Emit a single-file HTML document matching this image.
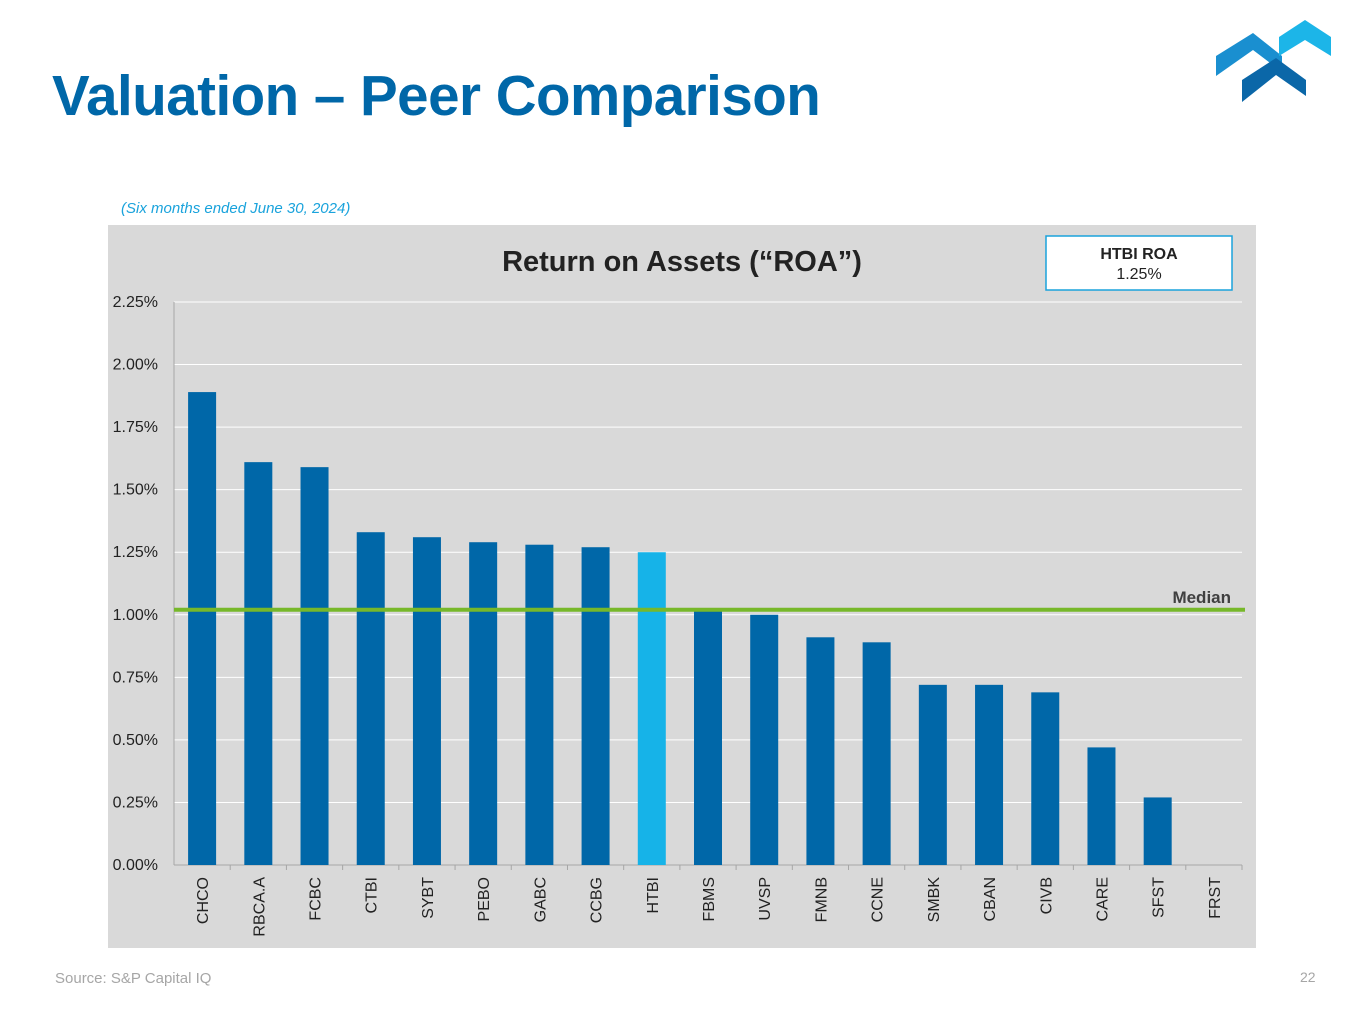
<!DOCTYPE html>
<html><head><meta charset="utf-8"><style>
body{margin:0;width:1365px;height:1024px;background:#fff;font-family:"Liberation Sans",sans-serif;position:relative;overflow:hidden}
#title{position:absolute;left:52px;top:63px;font-size:56.5px;font-weight:bold;color:#0067a8;margin:0;letter-spacing:-0.5px}
#sub{position:absolute;left:121px;top:200px;font-size:15px;font-style:italic;color:#1aa3dc}
#src{position:absolute;left:55px;top:970px;font-size:15px;color:#a6a6a6}
#pg{position:absolute;left:1300px;top:969px;font-size:14px;color:#a6a6a6}
</style></head><body>
<h1 id="title">Valuation – Peer Comparison</h1>
<svg style="position:absolute;left:0;top:0" width="1365" height="120">
<polygon points="1216,56 1253,33 1282,56 1282,72 1253,50 1216,76" fill="#1a8fd0"/>
<polygon points="1279,37 1305,20 1331,37 1331,56 1305,40 1279,56" fill="#1cb5e8"/>
<polygon points="1242,80 1276,58 1306,80 1306,96 1276,75 1242,102" fill="#0b67a8"/>
</svg>
<div id="sub">(Six months ended June 30, 2024)</div>
<svg id="chart" style="position:absolute;left:0;top:0" width="1365" height="1024"></svg>
<div id="src">Source: S&amp;P Capital IQ</div>
<div id="pg">22</div>
<script>
const categories=["CHCO","RBCA.A","FCBC","CTBI","SYBT","PEBO","GABC","CCBG","HTBI","FBMS","UVSP","FMNB","CCNE","SMBK","CBAN","CIVB","CARE","SFST","FRST"];
const roaValues=[1.89,1.61,1.59,1.33,1.31,1.29,1.28,1.27,1.25,1.02,1.00,0.91,0.89,0.72,0.72,0.69,0.47,0.27,0.00];
const medianValue=1.02;
const highlight="HTBI";
const yTicks=[0,0.25,0.5,0.75,1,1.25,1.5,1.75,2,2.25];
const yTickLabels=["0.00%","0.25%","0.50%","0.75%","1.00%","1.25%","1.50%","1.75%","2.00%","2.25%"];
const NS="http://www.w3.org/2000/svg";
const svg=document.getElementById('chart');
function mk(t,a,p){const e=document.createElementNS(NS,t);for(const k in a)e.setAttribute(k,a[k]);(p||svg).appendChild(e);return e;}
const x0=174,x1=1242,yBase=865,yTop=302,yMax=2.25;
const y=v=>yBase-(v/yMax)*(yBase-yTop);
const step=(x1-x0)/categories.length;
const xc=i=>x0+step*(i+0.5);
const bg=mk('rect',{x:108,y:225,width:1148,height:723,fill:'#d9d9d9'});


yTicks.forEach((t,i)=>{
 const g=mk('line',{x1:x0,x2:x1,y1:y(t),y2:y(t),stroke:i==0?'#a6a6a6':'#fff','stroke-width':1});
 
 
 const tx=mk('text',{x:158,y:y(t)+5,'text-anchor':'end','font-size':16,fill:'#222'});
 tx.textContent=yTickLabels[i];
 
 
});
const ax=mk('line',{x1:x0,x2:x0,y1:yTop,y2:yBase,stroke:'#a6a6a6'});


categories.forEach((c,i)=>{
 const h=yBase-y(roaValues[i]);
 const b=mk('rect',{x:xc(i)-14,y:y(roaValues[i]),width:28,height:h,fill:c==highlight?'#16b3e8':'#0067a8'});
 
 
 const tk=mk('line',{x1:x0+step*(i+1),x2:x0+step*(i+1),y1:yBase,y2:yBase+5,stroke:'#a6a6a6'});
 
 
 const t=mk('text',{x:0,y:0,'text-anchor':'end','font-size':16,fill:'#222',transform:`translate(${xc(i)+6},${yBase+12}) rotate(-90)`});
 t.textContent=c;
 
 
});
const ml=mk('line',{x1:x0,x2:1245,y1:y(medianValue),y2:y(medianValue),stroke:'#77b82a','stroke-width':4});


const mt=mk('text',{x:1231,y:y(medianValue)-7,'text-anchor':'end','font-size':17,'font-weight':'bold',fill:'#404040'});
mt.textContent='Median';


const ct=mk('text',{x:682,y:271,'text-anchor':'middle','font-size':29,'font-weight':'bold',fill:'#222'});
ct.textContent='Return on Assets (“ROA”)';


const box=mk('rect',{x:1046,y:236,width:186,height:54,fill:'#fff',stroke:'#1aa3dc','stroke-width':1.5});


const b1=mk('text',{x:1139,y:259,'text-anchor':'middle','font-size':16,'font-weight':'bold',fill:'#222'});
b1.textContent='HTBI ROA';


const b2=mk('text',{x:1139,y:279,'text-anchor':'middle','font-size':16,fill:'#222'});
b2.textContent='1.25%';


</script>
</body></html>
